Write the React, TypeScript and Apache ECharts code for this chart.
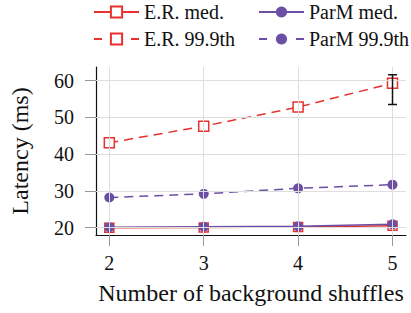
import React, { useEffect, useRef } from "react";
import * as echarts from "echarts";

const shuffles = [2, 3, 4, 5];
const erMed = [19.95, 20.05, 20.15, 20.55];
const er999 = [43.1, 47.6, 52.8, 59.3];
const parmMed = [20.1, 20.25, 20.35, 20.9];
const parm999 = [28.2, 29.2, 30.7, 31.7];
const errorBar = [[5, 53.5, 61.6]];
const yTicks = [20, 30, 40, 50, 60];
const xTicks = [2, 3, 4, 5];

const RED = "#e8312e";
const PURPLE = "#6b4fa5";
const FONT = "Liberation Serif";

const pairs = (ys: number[]) => shuffles.map((x, i) => [x, ys[i]]);

export default function App() {
  const ref = useRef<HTMLDivElement>(null);
  useEffect(() => {
    const chart = echarts.init(ref.current!, undefined, { renderer: "svg" });
    const squareStyle = { color: "#fff", borderColor: RED, borderWidth: 1.5 };
    const circleStyle = { color: PURPLE, borderColor: PURPLE, borderWidth: 0 };
    const legendBase = {
      top: -3,
      orient: "vertical",
      itemWidth: 45,
      itemHeight: 14,
      itemGap: 7,
      textStyle: { fontFamily: FONT, fontSize: 20, color: "#111" },
    };
    chart.setOption({
      animation: false,
      textStyle: { fontFamily: FONT },
      grid: { left: 95.5, top: 67, right: 5, bottom: 78, containLabel: false },
      legend: [
        {
          ...legendBase,
          left: 88,
          data: [
            { name: "E.R. med." },
            { name: "E.R. 99.9th", lineStyle: { type: [8, 29] } },
          ],
        },
        {
          ...legendBase,
          left: 253,
          data: [
            { name: "ParM med." },
            { name: "ParM 99.9th", lineStyle: { type: [8, 29] } },
          ],
        },
      ],
      xAxis: {
        type: "value",
        min: 1.859,
        max: 5.143,
        name: "Number of background shuffles",
        nameLocation: "middle",
        nameGap: 46,
        nameTextStyle: { fontFamily: FONT, fontSize: 24, color: "#111" },
        axisLine: { show: true, onZero: false, lineStyle: { color: "#111", width: 1.2 } },
        axisTick: { show: true, length: 11, customValues: xTicks, lineStyle: { color: "#999", width: 1 } },
        axisLabel: { customValues: xTicks, margin: 18, fontFamily: FONT, fontSize: 20, color: "#111" },
        splitLine: { show: false },
      },
      yAxis: {
        type: "value",
        min: 18,
        max: 63.7,
        name: "Latency (ms)",
        nameLocation: "middle",
        nameGap: 64,
        nameTextStyle: { fontFamily: FONT, fontSize: 24, color: "#111" },
        axisLine: { show: true, onZero: false, lineStyle: { color: "#111", width: 1.2 } },
        axisTick: { show: true, length: 11, customValues: yTicks, lineStyle: { color: "#999", width: 1 } },
        axisLabel: { customValues: yTicks, margin: 22, fontFamily: FONT, fontSize: 20, color: "#111" },
        splitLine: { show: false },
      },
      series: [
        {
          name: "grid",
          type: "line",
          data: [],
          z: 1,
          silent: true,
          markLine: {
            silent: true,
            symbol: ["none", "none"],
            label: { show: false },
            lineStyle: { color: "#dedede", type: "solid", width: 1 },
            data: [
              ...yTicks.map((v) => ({ yAxis: v })),
              ...xTicks.map((v) => ({ xAxis: v })),
            ],
          },
        },
        {
          name: "E.R. med.",
          type: "line",
          data: pairs(erMed),
          z: 3,
          symbol: "rect",
          symbolSize: 9,
          lineStyle: { color: RED, width: 1.5 },
          itemStyle: squareStyle,
        },
        {
          name: "E.R. 99.9th",
          type: "line",
          data: pairs(er999),
          z: 3,
          symbol: "rect",
          symbolSize: 10,
          lineStyle: { color: RED, width: 1.5, type: [9, 6] },
          itemStyle: squareStyle,
        },
        {
          name: "ParM med.",
          type: "line",
          data: pairs(parmMed),
          z: 4,
          symbol: "circle",
          symbolSize: 10,
          lineStyle: { color: PURPLE, width: 1.5 },
          itemStyle: circleStyle,
        },
        {
          name: "ParM 99.9th",
          type: "line",
          data: pairs(parm999),
          z: 4,
          symbol: "circle",
          symbolSize: 10,
          lineStyle: { color: PURPLE, width: 1.5, type: [9, 6] },
          itemStyle: circleStyle,
        },
        {
          name: "err",
          type: "custom",
          z: 5,
          data: errorBar,
          renderItem: (params: any, api: any) => {
            const x = api.value(0);
            const lo = api.coord([x, api.value(1)]);
            const hi = api.coord([x, api.value(2)]);
            const w = 4.5;
            const style = { stroke: "#111", lineWidth: 1.5 };
            return {
              type: "group",
              children: [
                { type: "line", shape: { x1: lo[0], y1: lo[1], x2: hi[0], y2: hi[1] }, style },
                { type: "line", shape: { x1: lo[0] - w, y1: lo[1], x2: lo[0] + w, y2: lo[1] }, style },
                { type: "line", shape: { x1: hi[0] - w, y1: hi[1], x2: hi[0] + w, y2: hi[1] }, style },
              ],
            };
          },
        },
      ],
    });
    return () => chart.dispose();
  }, []);
  return (
    <div
      ref={ref}
      style={{ position: "absolute", left: 0, top: 0, width: 411, height: 313 }}
    />
  );
}
